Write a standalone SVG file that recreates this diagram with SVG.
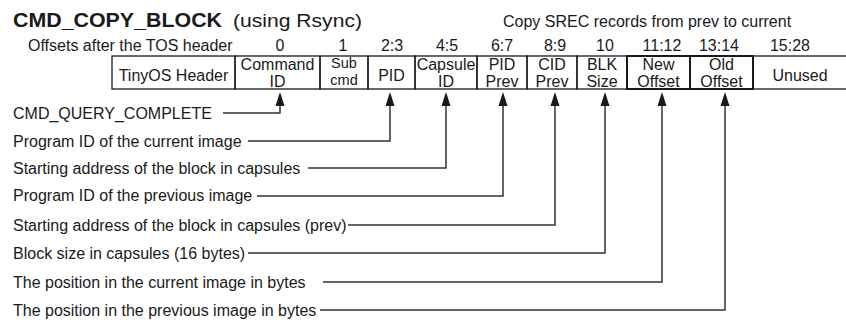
<svg xmlns="http://www.w3.org/2000/svg" width="846" height="324" viewBox="0 0 846 324">
<defs>
<style>
text{font-family:"Liberation Sans",Arial,sans-serif;fill:#1a1a1a;font-size:16px}
.t{font-weight:bold;font-size:21px}
.s{font-size:19px}
.c{text-anchor:middle}
.sm{font-size:14.5px}
.f{fill:none;stroke:#1a1a1a;stroke-width:1.3}
.nb{fill:none;stroke:#1a1a1a;stroke-width:2}
.w{fill:none;stroke:#333;stroke-width:1.5}
.ah{fill:#1a1a1a}
</style>
</defs>
<rect width="846" height="324" fill="#fff"/>
<g id="title">
<text class="t" x="13" y="27" textLength="209" lengthAdjust="spacingAndGlyphs">CMD_COPY_BLOCK</text>
<text class="s" x="233" y="27" textLength="129" lengthAdjust="spacingAndGlyphs">(using Rsync)</text>
<text x="503" y="27">Copy SREC records from prev to current</text>
</g>
<g id="offsets">
<text x="28" y="51">Offsets after the TOS header</text>
<text class="c" x="280" y="51">0</text>
<text class="c" x="343" y="51">1</text>
<text class="c" x="392" y="51">2:3</text>
<text class="c" x="447" y="51">4:5</text>
<text class="c" x="502" y="51">6:7</text>
<text class="c" x="555" y="51">8:9</text>
<text class="c" x="605" y="51">10</text>
<text class="c" x="662" y="51">11:12</text>
<text class="c" x="719" y="51">13:14</text>
<text class="c" x="790" y="51">15:28</text>
</g>
<g id="f-tos"><text class="c" x="173.5" y="81">TinyOS Header</text><rect class="f" x="112" y="56" width="123" height="33"/></g>
<g id="f-cmd"><text class="c" x="277.5" y="70">Command</text><text class="c" x="277.5" y="87">ID</text><rect class="f" x="235" y="56" width="85" height="33"/></g>
<g id="f-sub"><text class="c sm" x="344" y="68">Sub</text><text class="c sm" x="344" y="84.5">cmd</text><rect class="f" x="320" y="56" width="48" height="33"/></g>
<g id="f-pid"><text class="c" x="391.5" y="81">PID</text><rect class="f" x="368" y="56" width="47" height="33"/></g>
<g id="f-cap"><text class="c" x="446" y="70">Capsule</text><text class="c" x="446" y="87">ID</text><rect class="f" x="415" y="56" width="62" height="33"/></g>
<g id="f-pidprev"><text class="c" x="502" y="70">PID</text><text class="c" x="502" y="87">Prev</text><rect class="f" x="477" y="56" width="50" height="33"/></g>
<g id="f-cidprev"><text class="c" x="552" y="70">CID</text><text class="c" x="552" y="87">Prev</text><rect class="f" x="527" y="56" width="50" height="33"/></g>
<g id="f-blk"><text class="c" x="602" y="70">BLK</text><text class="c" x="602" y="87">Size</text><rect class="f" x="577" y="56" width="50" height="33"/></g>
<g id="f-new"><text class="c" x="658.5" y="70">New</text><text class="c" x="658.5" y="87">Offset</text></g>
<g id="f-old"><text class="c" x="721.5" y="70">Old</text><text class="c" x="721.5" y="87">Offset</text></g>
<g id="f-offsets-box"><rect class="nb" x="627" y="56" width="63" height="33"/><rect class="nb" x="690" y="56" width="63" height="33"/></g>
<g id="f-unused"><text class="c" x="800" y="81">Unused</text><rect class="f" x="753" y="56" width="100" height="33"/></g>
<g id="l-query"><text x="13" y="119">CMD_QUERY_COMPLETE</text></g>
<g id="l-pidcur"><text x="13" y="147">Program ID of the current image</text></g>
<g id="l-start"><text x="13" y="174">Starting address of the block in capsules</text></g>
<g id="l-pidprev"><text x="13" y="201">Program ID of the previous image</text></g>
<g id="l-startprev"><text x="13" y="231">Starting address of the block in capsules (prev)</text></g>
<g id="l-blk"><text x="13" y="259">Block size in capsules (16 bytes)</text></g>
<g id="l-poscur"><text x="13" y="288">The position in the current image in bytes</text></g>
<g id="l-posprev"><text x="13" y="316">The position in the previous image in bytes</text></g>
<g id="connectors">
<polyline class="w" points="223,113 280,113 280,104"/>
<polyline class="w" points="248,141 390,141 390,104"/>
<polyline class="w" points="308,168 446,168 446,104"/>
<polyline class="w" points="257,196 503,196 503,104"/>
<polyline class="w" points="348,225 555,225 555,104"/>
<polyline class="w" points="248,253 605,253 605,104"/>
<polyline class="w" points="323,282 662,282 662,104"/>
<polyline class="w" points="320,310 725,310 725,104"/>
<polygon class="ah" points="280,92 275.5,106 284.5,106"/>
<polygon class="ah" points="390,92 385.5,106 394.5,106"/>
<polygon class="ah" points="446,92 441.5,106 450.5,106"/>
<polygon class="ah" points="503,92 498.5,106 507.5,106"/>
<polygon class="ah" points="555,92 550.5,106 559.5,106"/>
<polygon class="ah" points="605,92 600.5,106 609.5,106"/>
<polygon class="ah" points="662,92 657.5,106 666.5,106"/>
<polygon class="ah" points="725,92 720.5,106 729.5,106"/>
</g>
</svg>
